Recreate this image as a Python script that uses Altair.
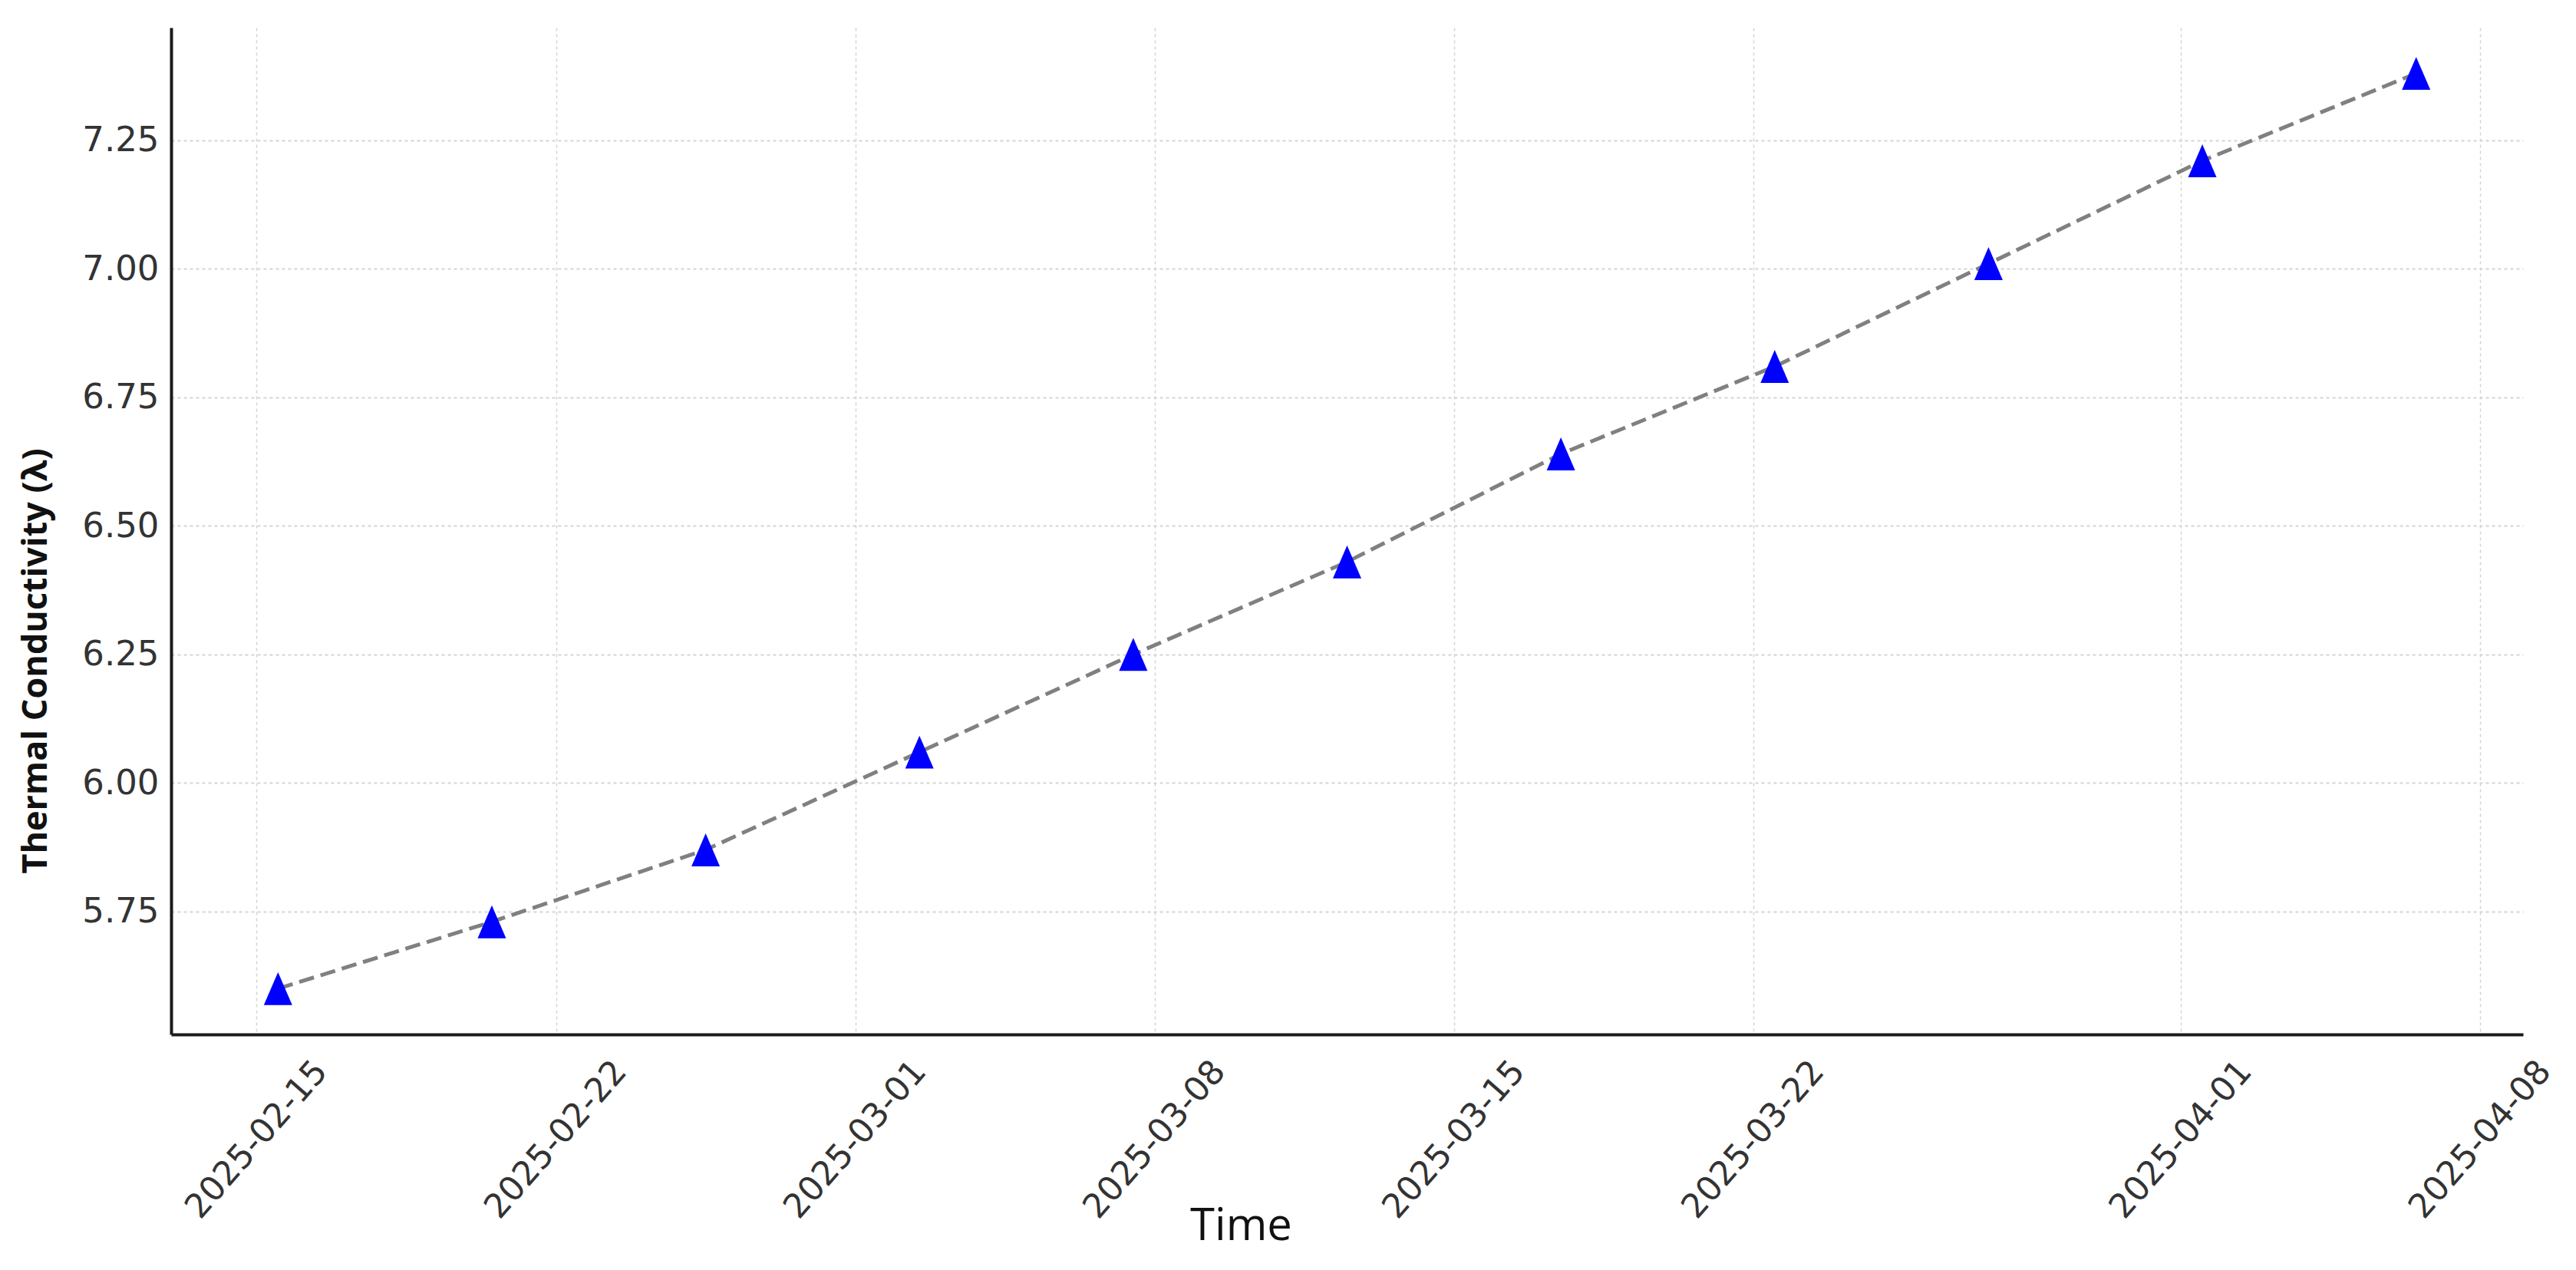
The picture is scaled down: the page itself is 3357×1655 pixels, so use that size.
import altair as alt
import pandas as pd

dates = ["2025-02-15T12:00:00", "2025-02-20T12:00:00", "2025-02-25T12:00:00",
         "2025-03-02T12:00:00", "2025-03-07T12:00:00", "2025-03-12T12:00:00",
         "2025-03-17T12:00:00", "2025-03-22T12:00:00", "2025-03-27T12:00:00",
         "2025-04-01T12:00:00", "2025-04-06T12:00:00"]
values = [5.60, 5.73, 5.87, 6.06, 6.25, 6.43, 6.64, 6.81, 7.01, 7.21, 7.38]

x_ticks = [(2025, 2, 15), (2025, 2, 22), (2025, 3, 1), (2025, 3, 8),
           (2025, 3, 15), (2025, 3, 22), (2025, 4, 1), (2025, 4, 8)]
y_ticks = [5.75, 6.00, 6.25, 6.50, 6.75, 7.00, 7.25]
x_domain = [(2025, 2, 13), (2025, 4, 9)]
y_domain = [5.511, 7.469]

df = pd.DataFrame({"Time": dates, "Value": values})

def dt(t):
    return alt.DateTime(year=t[0], month=t[1], date=t[2])

x_enc = alt.X(
    "Time:T",
    scale=alt.Scale(domain=[dt(x_domain[0]), dt(x_domain[1])], nice=False),
    axis=alt.Axis(
        title="Time",
        values=[dt(t) for t in x_ticks],
        format="%Y-%m-%d",
        labelAngle=311,
        labelAlign="center",
        labelBaseline="middle",
        labelPadding=137,
        labelLimit=0,
        labelFont="DejaVu Sans",
        labelFontSize=44,
        labelColor="#333333",
        ticks=False,
        tickSize=0,
        domainColor="#1a1a1a",
        domainWidth=4,
        grid=True,
        gridColor="#d4d4d4",
        gridDash=[4, 4],
        gridWidth=1.5,
        titleFont="Open Sans",
        titleFontSize=58,
        titleFontWeight="normal",
        titleColor="#111111",
        titleX=1394,
        titleY=250,
        titleAlign="center",
        titleBaseline="middle",
        titleLimit=0,
        labelOverlap=False,
    ),
)

y_enc = alt.Y(
    "Value:Q",
    scale=alt.Scale(domain=y_domain, nice=False, zero=False),
    axis=alt.Axis(
        title="Thermal Conductivity (λ)",
        values=y_ticks,
        format=".2f",
        labelFont="DejaVu Sans",
        labelFontSize=45,
        labelColor="#333333",
        labelPadding=16,
        labelLimit=0,
        ticks=False,
        tickSize=0,
        domainColor="#1a1a1a",
        domainWidth=4,
        grid=True,
        gridColor="#d4d4d4",
        gridDash=[4, 4],
        gridWidth=1.8,
        titleFont="Open Sans",
        titleFontSize=45,
        titleFontWeight="bold",
        titleColor="#111111",
        titleAngle=270,
        titleX=-177,
        titleY=825,
        titleAlign="center",
        titleBaseline="middle",
        titleLimit=0,
        labelOverlap=False,
    ),
)

base = alt.Chart(df)

line = base.mark_line(color="#808080", strokeWidth=5, strokeDash=[20, 9]).encode(
    x=x_enc, y=y_enc
)

points = base.mark_point(
    shape="M0,-1.16L1,1.16L-1,1.16Z",
    filled=True,
    color="#0000ff",
    opacity=1,
    size=1369,
).encode(x="Time:T", y="Value:Q")

chart = (
    alt.layer(line, points)
    .properties(
        width=3065,
        height=1312,
        autosize=alt.AutoSizeParams(type="none"),
        padding={"left": 215, "top": 28, "right": 58, "bottom": 300},
        background="white",
    )
    .configure_view(stroke=None)
)

chart.save("out.html", embed_options={"renderer": "svg", "actions": False})
